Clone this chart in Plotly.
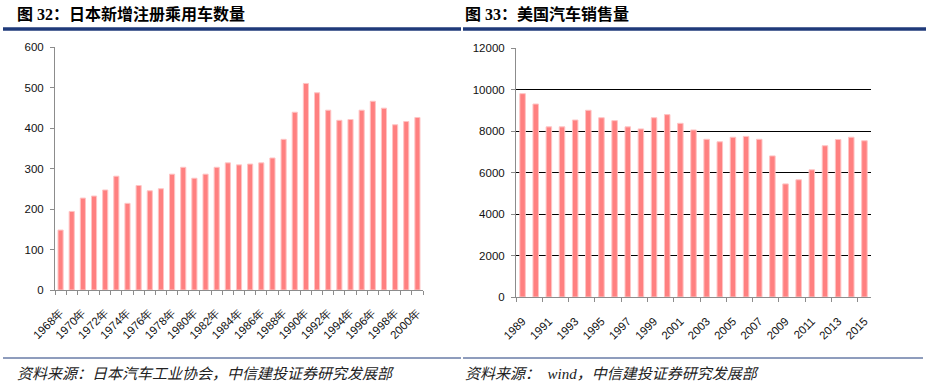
import plotly.graph_objects as go

# ---- data ----
jp_years = list(range(1968, 2001))
jp_values = [148, 194, 227, 232, 247, 281, 214, 258, 245, 250, 286, 303, 276, 286,
             303, 314, 309, 311, 314, 326, 372, 439, 510, 487, 444, 419, 421, 444,
             466, 449, 408, 416, 426]
jp_tick_years = jp_years[::2]
jp_tick_text = [f"{y}年" for y in jp_tick_years]

us_years = list(range(1989, 2016))
us_values = [9800, 9300, 8200, 8200, 8530, 9000, 8640, 8500, 8200, 8100, 8640, 8790,
             8370, 8050, 7600, 7480, 7700, 7740, 7600, 6800, 5450, 5650, 6130, 7290,
             7590, 7700, 7530]
us_tick_years = us_years[::2]
us_tick_text = [str(y) for y in us_tick_years]

W, H = 926, 383
BAR = "#FF8080"
EDGE = "#FFC4C4"
AXC = "#8C8C8C"
NAVY = "#1F3A7A"
TICKFONT = dict(family="Liberation Sans, Arial, sans-serif", size=11.5, color="#111111")

def px(x):
    return x / W

def py(y):
    return (H - y) / H

fig = go.Figure()
fig.add_trace(go.Bar(x=jp_years, y=jp_values, width=0.46,
                     marker=dict(color=BAR, line=dict(color=EDGE, width=1)),
                     xaxis="x", yaxis="y", showlegend=False))
fig.add_trace(go.Bar(x=us_years, y=us_values, width=0.42,
                     marker=dict(color=BAR, line=dict(color=EDGE, width=1)),
                     xaxis="x2", yaxis="y2", showlegend=False))

fig.update_layout(
    width=W, height=H,
    margin=dict(l=0, r=0, t=0, b=0, autoexpand=False),
    paper_bgcolor="white", plot_bgcolor="white",
    xaxis=dict(domain=[px(55), px(423)], range=[1967.5, 2000.5],
               tickmode="array", tickvals=jp_tick_years, ticktext=jp_tick_text,
               tickangle=-45, ticks="", tickfont=TICKFONT, automargin=False,
               ticklabelstandoff=10,
               showline=True, linecolor=AXC, linewidth=1, showgrid=False, zeroline=False,
               minor=dict(tick0=1967.5, dtick=1, ticks="outside", ticklen=4,
                          tickcolor=AXC, tickwidth=1, showgrid=False),
               anchor="y", fixedrange=True),
    yaxis=dict(domain=[py(290), py(47)], range=[0, 600], dtick=100,
               ticks="outside", ticklen=4, tickcolor=AXC, tickfont=TICKFONT,
               automargin=False, ticklabelstandoff=4,
               showline=True, linecolor=AXC, linewidth=1, showgrid=False, zeroline=False,
               anchor="x", fixedrange=True),
    xaxis2=dict(domain=[px(516), px(871)], range=[1988.5, 2015.5],
                tickmode="array", tickvals=us_tick_years, ticktext=us_tick_text,
                tickangle=-45, ticks="", tickfont=TICKFONT, automargin=False,
                ticklabelstandoff=12,
                showline=True, linecolor=AXC, linewidth=1, showgrid=False, zeroline=False,
                minor=dict(tick0=1988.5, dtick=2, ticks="outside", ticklen=4,
                           tickcolor=AXC, tickwidth=1, showgrid=False),
                anchor="y2", fixedrange=True),
    yaxis2=dict(domain=[py(297), py(48)], range=[0, 12000], dtick=2000,
                tickformat="d", automargin=False, ticklabelstandoff=4,
                ticks="outside", ticklen=4, tickcolor=AXC, tickfont=TICKFONT,
                showline=True, linecolor=AXC, linewidth=1,
                showgrid=True, gridcolor="#000000", gridwidth=1, zeroline=False,
                anchor="x2", fixedrange=True),
)

TITLEFONT = dict(family="Liberation Serif, Noto Sans CJK SC", size=16, color="#000000")
FOOTFONT = dict(family="Liberation Serif, Noto Sans CJK SC", size=15, color="#222222",
                style="italic")

annos = [
    dict(text="<b>图 32：日本新增注册乘用车数量</b>", x=px(15), y=py(14), font=TITLEFONT),
    dict(text="<b>图 33：美国汽车销售量</b>", x=px(463), y=py(14), font=TITLEFONT),
    dict(text="资料来源：日本汽车工业协会，中信建投证券研究发展部", x=px(15), y=py(374), font=FOOTFONT),
    dict(text="资料来源：  wind，中信建投证券研究发展部", x=px(463), y=py(374), font=FOOTFONT),
]
for a in annos:
    fig.add_annotation(xref="paper", yref="paper", xanchor="left", yanchor="middle",
                       showarrow=False, **a)

# header rules and footer rules
fig.add_shape(type="line", xref="paper", yref="paper", x0=px(3), x1=px(461),
              y0=py(29), y1=py(29), line=dict(color=NAVY, width=3.5))
fig.add_shape(type="line", xref="paper", yref="paper", x0=px(463), x1=px(926),
              y0=py(29), y1=py(29), line=dict(color=NAVY, width=3.5))
fig.add_shape(type="line", xref="paper", yref="paper", x0=px(3), x1=px(461),
              y0=py(358), y1=py(358), line=dict(color=NAVY, width=1))
fig.add_shape(type="line", xref="paper", yref="paper", x0=px(463), x1=px(923),
              y0=py(358), y1=py(358), line=dict(color=NAVY, width=1))

fig.write_html("out.html", config={"displayModeBar": False},
               post_script="document.body.style.margin='0';document.body.style.overflow='hidden';")
